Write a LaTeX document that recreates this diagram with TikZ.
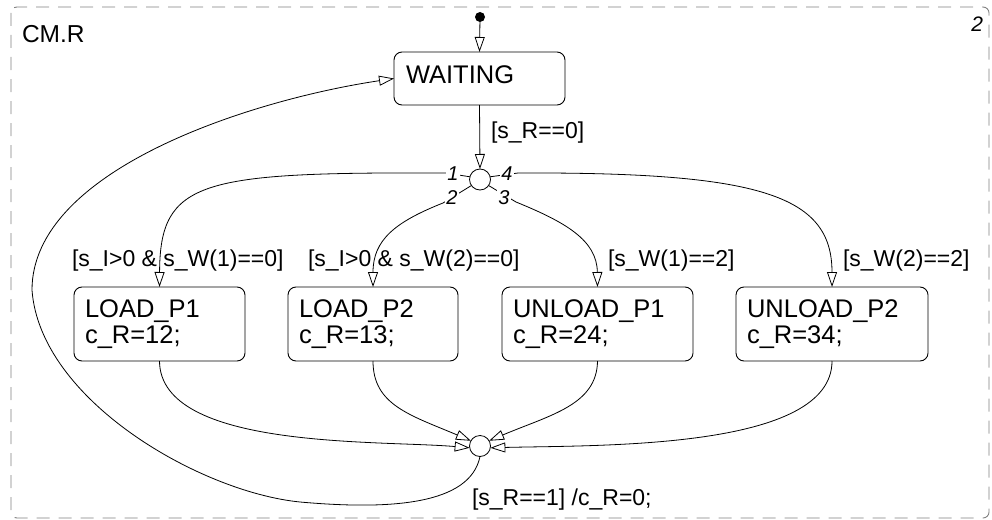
\documentclass[tikz,border=0pt]{standalone}
\usepackage{fontspec}
\setmainfont{Liberation Sans}
\usetikzlibrary{arrows.meta}
\begin{document}
\begin{tikzpicture}[x=1pt,y=-1pt,
  every node/.style={inner sep=0pt, outer sep=0pt},
  statebox/.style={draw, line width=0.9pt, rounded corners=8pt, minimum height=74pt,
    inner xsep=11pt, align=left, font=\fontsize{25.5}{26}\selectfont},
  waitbox/.style={draw, line width=0.9pt, rounded corners=8pt, minimum height=53pt,
    inner xsep=12pt, text width=147pt, text height=18pt, text depth=9pt, align=left,
    font=\fontsize{25.5}{26}\selectfont},
  jn/.style={draw, circle, minimum size=21pt, line width=0.8pt},
  initdot/.style={circle, fill=black, minimum size=10pt},
  conn/.style={line width=0.8pt},
  arr/.style={conn, -{Triangle[open, length=15pt, width=10pt]}},
  lab/.style={font=\fontsize{23}{26}\selectfont, anchor=base west},
  num/.style={font=\fontsize{20}{22}\selectfont\itshape, fill=white, inner sep=1pt},
  frame/.style={draw=gray, line width=0.9pt, dash pattern=on 13pt off 9pt, rounded corners=6pt}
]
\useasboundingbox (0,0) rectangle (992,519);
\draw[frame] (11,7) rectangle (989,518);

\node[font=\fontsize{24.5}{26}\selectfont, anchor=base west] (title) at (22,42) {CM.R};
\node[font=\fontsize{21}{24}\selectfont\itshape, anchor=base east] (prio) at (983,32) {2};

\node[initdot] (init) at (480,17) {};
\node[waitbox] (W) at (479.5,78.5) {WAITING};
\node[jn] (j1) at (480,179.5) {};
\node[jn] (j2) at (480,446) {};

\node[statebox, text width=149pt] (LP1) at (159.5,324) {LOAD\_P1\\c\_R=12;};
\node[statebox, text width=148pt] (LP2) at (373,324) {LOAD\_P2\\c\_R=13;};
\node[statebox, text width=169pt] (UP1) at (597.5,324) {UNLOAD\_P1\\c\_R=24;};
\node[statebox, text width=170pt] (UP2) at (832,324) {UNLOAD\_P2\\c\_R=34;};

\coordinate (t1) at (446,173);
\coordinate (t2) at (443,203);
\coordinate (t3) at (516,202);
\coordinate (t4) at (518,173);

% default and entry transitions
\draw[arr] (init) -- (W.north);
\draw[arr] (W.south) -- (j1.north);

% junction 1 outgoing
\draw[arr] (j1.165) -- (t1) .. controls (200,172) and (160,180) .. (LP1.north);
\draw[arr] (j1.215) -- (t2) .. controls (395,222) and (373,240) .. (LP2.north);
\draw[arr] (j1.-35) -- (t3) .. controls (565,222) and (597,240) .. (UP1.north);
\draw[arr] (j1.15) -- (t4) .. controls (760,172) and (832,195) .. (UP2.north);

\node[num] (n1) at (453,174) {1};
\node[num] (n2) at (452,198) {2};
\node[num] (n3) at (504,198) {3};
\node[num] (n4) at (507,174) {4};

% into junction 2
\draw[arr] (LP1.south) .. controls (160,450) and (380,440) .. (j2.190);
\draw[arr] (LP2.south) .. controls (373,405) and (410,415) .. (j2.150);
\draw[arr] (UP1.south) .. controls (597,405) and (550,415) .. (j2.30);
\draw[arr] (UP2.south) .. controls (832,450) and (600,445) .. (j2.-10);

% back to WAITING
\draw[arr] (j2.south) .. controls (470,505) and (390,510) .. (300,502)
  .. controls (200,492) and (40,400) .. (32,290)
  .. controls (32,170) and (250,100) .. (W.west);

% labels
\node[lab] (lw) at (491,138) {[s\_R==0]};
\node[lab] (l1) at (72,266) {[s\_I>0 \& s\_W(1)==0]};
\node[lab] (l2) at (308,266) {[s\_I>0 \& s\_W(2)==0]};
\node[lab] (l3) at (608,266) {[s\_W(1)==2]};
\node[lab] (l4) at (843,266) {[s\_W(2)==2]};
\node[lab] (lr) at (472,505) {[s\_R==1] /c\_R=0;};
\end{tikzpicture}
\end{document}
